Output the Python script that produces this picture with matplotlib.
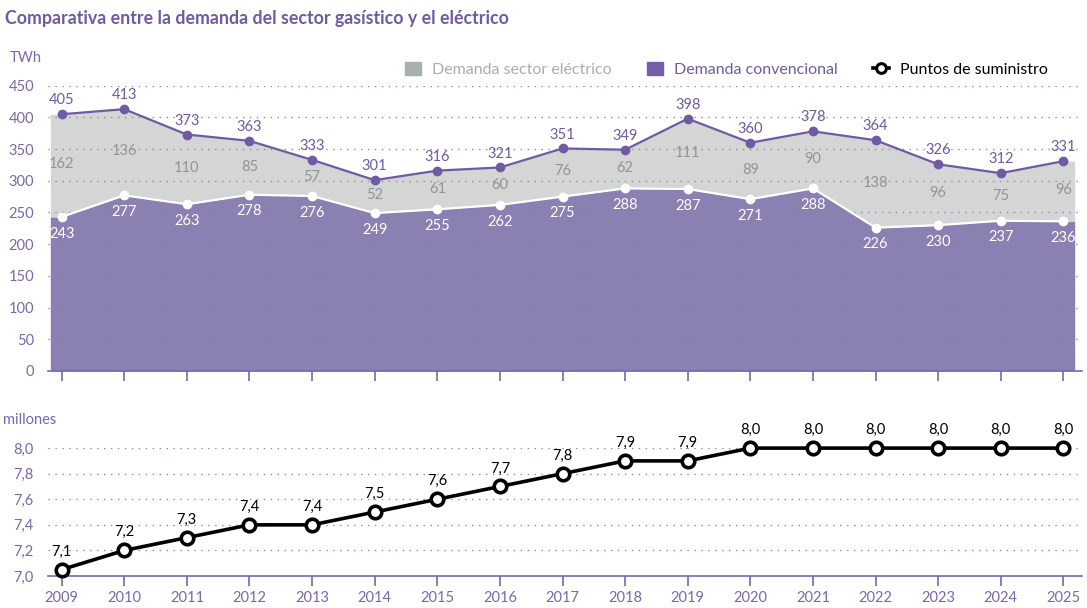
import numpy as np
import matplotlib.pyplot as plt
from matplotlib.lines import Line2D
from matplotlib.patches import Patch

plt.rcParams['font.family'] = ['Lato', 'DejaVu Sans']

years = list(range(2009, 2026))
convencional = [243, 277, 263, 278, 276, 249, 255, 262, 275, 288, 287, 271, 288, 226, 230, 237, 236]
electrico = [162, 136, 110, 85, 57, 52, 61, 60, 76, 62, 111, 89, 90, 138, 96, 75, 96]
total = [405, 413, 373, 363, 333, 301, 316, 321, 351, 349, 398, 360, 378, 364, 326, 312, 331]
puntos = [7.05, 7.2, 7.3, 7.4, 7.4, 7.5, 7.6, 7.7, 7.8, 7.9, 7.9, 8.0, 8.0, 8.0, 8.0, 8.0, 8.0]
puntos_lbl = ['7,1', '7,2', '7,3', '7,4', '7,4', '7,5', '7,6', '7,7', '7,8', '7,9', '7,9',
              '8,0', '8,0', '8,0', '8,0', '8,0', '8,0']

PURPLE = '#6f5aa3'
AREA_P = '#8a80b2'
AREA_G = '#d3d6d4'
TICK_C = '#7a67ad'
GRID_C = '#8f86b8'

fig = plt.figure(figsize=(10.87, 6.08), dpi=100)
ax1 = fig.add_axes([0.044, 0.390, 0.951, 0.469])
ax2 = fig.add_axes([0.044, 0.0526, 0.951, 0.2104])

x = np.array(years, dtype=float)
xlo, xhi = years[0] - 0.22, years[-1] + 0.29
# areas extend slightly past first/last year
xa = np.concatenate([[years[0] - 0.18], x, [years[-1] + 0.18]])
conv_a = np.concatenate([[convencional[0]], convencional, [convencional[-1]]])
tot_a = np.concatenate([[total[0]], total, [total[-1]]])

ax1.fill_between(xa, 0, conv_a, color=AREA_P, lw=0, zorder=1)
ax1.fill_between(xa, conv_a, tot_a, color=AREA_G, lw=0, zorder=1)
ax1.plot(x, total, color=PURPLE, lw=1.6, marker='o', ms=6, zorder=4)
ax1.plot(x, convencional, color='white', lw=1.6, marker='o', ms=6, zorder=4)

for xi, t, c, e in zip(years, total, convencional, electrico):
    ax1.annotate(str(t), (xi, t), xytext=(0, 10), textcoords='offset points',
                 ha='center', va='center', fontsize=10.5, color=PURPLE, zorder=5)
    ax1.annotate(str(c), (xi, c), xytext=(0, -12), textcoords='offset points',
                 ha='center', va='center', fontsize=10.5, color='white', zorder=5)
    ax1.text(xi, (t + c) / 2 + 2, str(e), ha='center', va='center',
             fontsize=10.5, color='#949494', zorder=5)

ax1.set_xlim(xlo, xhi)
ax1.set_ylim(0, 450)
ax1.set_yticks(range(0, 451, 50))
ax1.set_xticks(years)
ax1.set_xticklabels([])

ax2.plot(x, puntos, color='black', lw=2.6, marker='o', ms=9, mfc='white',
         mec='black', mew=2.6, clip_on=False, zorder=4)
for xi, v, s in zip(years, puntos, puntos_lbl):
    ax2.annotate(s, (xi, v), xytext=(0, 13), textcoords='offset points',
                 ha='center', va='center', fontsize=10.5, color='black')
ax2.set_xlim(xlo, xhi)
ax2.set_ylim(7.0, 8.0)
ax2.set_yticks([7.0, 7.2, 7.4, 7.6, 7.8, 8.0])
ax2.set_yticklabels(['7,0', '7,2', '7,4', '7,6', '7,8', '8,0'])
ax2.set_xticks(years)

for ax in (ax1, ax2):
    for s in ('top', 'right', 'left'):
        ax.spines[s].set_visible(False)
    ax.spines['bottom'].set_color(TICK_C)
    ax.spines['bottom'].set_linewidth(1.2)
    ax.tick_params(axis='y', length=0, pad=10, labelsize=10.5, labelcolor=TICK_C)
    ax.tick_params(axis='x', length=7, width=1.2, color=TICK_C, direction='out',
                   labelsize=10.5, labelcolor=TICK_C, pad=4)
    ax.grid(axis='y', color=GRID_C, linestyle=(0, (1, 4)), lw=1)
    ax.set_axisbelow(False)
    for gl in ax.get_ygridlines():
        gl.set_zorder(2)
ax1.get_ygridlines()[0].set_visible(False)
ax2.get_ygridlines()[0].set_visible(False)

fig.text(0.005, 0.983, 'Comparativa entre la demanda del sector gasístico y el eléctrico',
         fontsize=12.8, fontweight='bold', color=PURPLE, va='top')
fig.text(0.009, 0.905, 'TWh', fontsize=10.5, color=TICK_C, va='center')
fig.text(0.003, 0.309, 'millones', fontsize=10.5, color=TICK_C, va='center')

handles = [Patch(color='#a9b0ad'), Patch(color='#7560a8'),
           Line2D([], [], color='black', lw=2.6, marker='o', ms=7, mfc='white', mew=2.2)]
labels = ['Demanda sector eléctrico', 'Demanda convencional', 'Puntos de suministro']
leg = fig.legend(handles, labels, ncol=3, loc='center right', bbox_to_anchor=(0.977, 0.886),
                 frameon=False, fontsize=11.5, handlelength=1.0, handleheight=0.9,
                 columnspacing=2.2, handletextpad=0.7)
for t, c in zip(leg.get_texts(), ['#a9aeac', PURPLE, 'black']):
    t.set_color(c)

fig.savefig('out.png', dpi=100)
